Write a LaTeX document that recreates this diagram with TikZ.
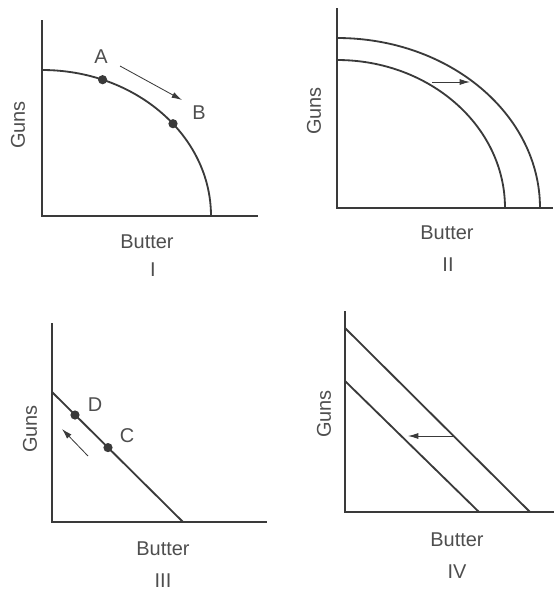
\documentclass[tikz,border=0pt]{standalone}
\usepackage{fontspec}
\setmainfont{Liberation Sans}
\usetikzlibrary{arrows.meta}
\definecolor{ppfink}{HTML}{3A3A3A}
\definecolor{ppftext}{HTML}{4E4E4E}
\tikzset{
  ax/.style={draw=ppfink, line width=0.8pt},
  frontier/.style={draw=ppfink, line width=1.3pt},
  movearr/.style={-{Latex[length=2.6mm,width=1.5mm]}, line width=0.6pt, color=ppfink},
  dot/.style={fill=ppfink},
  lbl/.style={text=ppftext, font=\fontsize{14.2}{17}\selectfont, inner sep=0pt},
}
\begin{document}
\begin{tikzpicture}[x=0.25mm,y=-0.25mm]
  \useasboundingbox (0,0) rectangle (554,592);
  % axes: origin x / origin y / top of y-axis / end of x-axis
  \foreach \ox/\oy/\top/\rt in {42/216/20/258, 337/208/8/553, 52/522/323/267, 345/512/311/554}
    \draw[ax] (\ox,\top) -- (\ox,\oy) -- (\rt,\oy);
  \foreach \n/\gx/\gy/\bx/\by/\rx/\ry/\num in {1/18/125/147/242/153/270/I, 2/314/111/447/233/448/265/II,
      3/30/429/163/549/163/581/III, 4/324/414/457/540/457/572/IV}
    {
      \node[lbl, rotate=90] (guns\n) at (\gx,\gy) {Guns};
      \node[lbl] (butter\n) at (\bx,\by) {Butter};
      \node[lbl] (panel\n) at (\rx,\ry) {\num};
    }
  % I: bowed-out frontier, move from A to B
  \draw[frontier] (42,70) arc[start angle=-90, end angle=0, x radius=169, y radius=146];
  \coordinate (ptA) at (102.6,79.7);
  \coordinate (ptB) at (173,123.7);
  \fill[dot] (ptA) circle (1.15mm); \fill[dot] (ptB) circle (1.15mm);
  \node[lbl] (labA) at (101,57) {A};
  \node[lbl] (labB) at (199,113) {B};
  \coordinate (abfrom) at (120,66); \coordinate (abto) at (182,100);
  \draw[movearr] (abfrom) -- (abto);
  % II: frontier shifts out
  \draw[frontier] (337,60) arc[start angle=-90, end angle=0, x radius=168, y radius=148];
  \draw[frontier] (337,38) arc[start angle=-90, end angle=0, x radius=203, y radius=170];
  \coordinate (outfrom) at (432,82); \coordinate (outto) at (470,82);
  \draw[movearr] (outfrom) -- (outto);
  % III: straight frontier, move from C to D
  \draw[frontier] (52,392) -- (183,522);
  \coordinate (ptD) at (75,415);
  \coordinate (ptC) at (108,447.6);
  \fill[dot] (ptD) circle (1.15mm); \fill[dot] (ptC) circle (1.15mm);
  \node[lbl] (labD) at (95,405) {D};
  \node[lbl] (labC) at (127,436) {C};
  \coordinate (cdfrom) at (88,456); \coordinate (cdto) at (62,429);
  \draw[movearr] (cdfrom) -- (cdto);
  % IV: straight frontier shifts in
  \draw[frontier] (345,328) -- (530,512);
  \draw[frontier] (345,381) -- (479,512);
  \coordinate (infrom) at (453,436); \coordinate (into) at (408,436);
  \draw[movearr] (infrom) -- (into);
\end{tikzpicture}
\end{document}
